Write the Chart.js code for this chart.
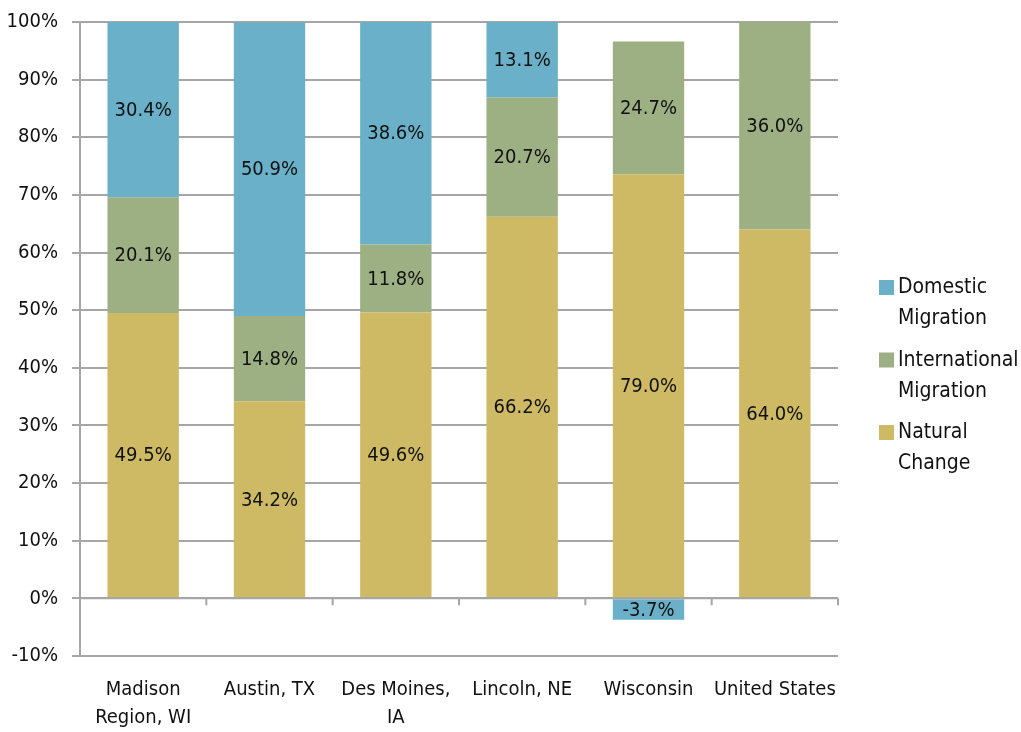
<!DOCTYPE html>
<html>
<head>
<meta charset="utf-8">
<script src="https://cdn.jsdelivr.net/npm/chart.js@4/dist/chart.umd.min.js"></script>
<style>
  html, body { margin: 0; padding: 0; background: #fff; }
  #wrap { width: 1021px; height: 732px; position: relative; }
</style>
</head>
<body>
<div id="wrap"><canvas id="chart"></canvas></div>
<script>
// categories and series (drawn heights, in %)
var categories = [['Madison', 'Region, WI'], 'Austin, TX', ['Des Moines,', 'IA'], 'Lincoln, NE', 'Wisconsin', 'United States'];
var naturalChange = [49.5, 34.2, 49.6, 66.2, 73.6, 64.0];
var internationalMigration = [20.1, 14.8, 11.8, 20.7, 23.0, 36.0];
var domesticMigration = [30.4, 50.9, 38.6, 13.1, -3.7, 0];

// printed value labels
var naturalLabels = ['49.5%', '34.2%', '49.6%', '66.2%', '79.0%', '64.0%'];
var internationalLabels = ['20.1%', '14.8%', '11.8%', '20.7%', '24.7%', '36.0%'];
var domesticLabels = ['30.4%', '50.9%', '38.6%', '13.1%', '-3.7%', null];

var legendNames = [['Domestic', 'Migration'], ['International', 'Migration'], ['Natural', 'Change']];
var yTicks = { min: -10, max: 100, step: 10 };

var sFont = "'Liberation Sans Narrow', 'DejaVu Sans Condensed', sans-serif";
var sGrid = '#a6a6a6';
var sBlue = 'rgb(106, 176, 200)';
var sGreen = 'rgb(157, 176, 131)';
var sGold = 'rgb(206, 185, 101)';

// value labels in the middle of each segment
var valueLabels = {
    id: 'valueLabels',
    afterDatasetsDraw: function(chart) {
        var ctx = chart.ctx;
        ctx.save();
        ctx.font = '20px ' + sFont;
        ctx.fillStyle = '#111';
        ctx.textAlign = 'center';
        ctx.textBaseline = 'middle';
        chart.data.datasets.forEach(function(ds, d) {
            chart.getDatasetMeta(d).data.forEach(function(bar, i) {
                var sText = ds.valueLabels[i];
                if (!sText)
                    return;
                ctx.fillText(sText, bar.x, (bar.y + bar.base) / 2 + 1);
            });
        });
        ctx.restore();
    }
};

// category tick marks on the zero line
var zeroTicks = {
    id: 'zeroTicks',
    afterDatasetsDraw: function(chart) {
        var ctx = chart.ctx;
        var x = chart.scales.x, y = chart.scales.y;
        var y0 = y.getPixelForValue(0);
        ctx.save();
        ctx.strokeStyle = sGrid;
        ctx.lineWidth = 2;
        ctx.beginPath();
        ctx.moveTo(chart.chartArea.left, y0);
        ctx.lineTo(chart.chartArea.right, y0);
        for (var i = 0; i < categories.length; i++) {
            var xb = i < categories.length - 1 ? (x.getPixelForValue(i) + x.getPixelForValue(i + 1)) / 2 : chart.chartArea.right;
            ctx.moveTo(xb, y0);
            ctx.lineTo(xb, y0 + 7);
        }
        ctx.stroke();
        ctx.restore();
    }
};

// legend on the right, two-line names
var sideLegend = {
    id: 'sideLegend',
    afterDraw: function(chart) {
        var ctx = chart.ctx;
        var aOrder = [2, 1, 0];
        var iTop = 288;
        ctx.save();
        ctx.font = '21px ' + sFont;
        ctx.textBaseline = 'middle';
        ctx.textAlign = 'left';
        aOrder.forEach(function(d, k) {
            var ds = chart.data.datasets[d];
            var yc = iTop + k * 72.5;
            ctx.fillStyle = ds.backgroundColor;
            ctx.fillRect(879, yc - 8, 15, 15);
            ctx.fillStyle = '#111';
            ctx.fillText(legendNames[k][0], 898, yc);
            ctx.fillText(legendNames[k][1], 898, yc + 31);
        });
        ctx.restore();
    }
};

new Chart(document.getElementById('chart'), {
    type: 'bar',
    data: {
        labels: categories,
        datasets: [{
            label: 'Natural Change',
            data: naturalChange,
            valueLabels: naturalLabels,
            backgroundColor: sGold
        }, {
            label: 'International Migration',
            data: internationalMigration,
            valueLabels: internationalLabels,
            backgroundColor: sGreen
        }, {
            label: 'Domestic Migration',
            data: domesticMigration,
            valueLabels: domesticLabels,
            backgroundColor: sBlue
        }]
    },
    options: {
        responsive: true,
        maintainAspectRatio: false,
        animation: false,
        categoryPercentage: 1,
        barPercentage: 0.565,
        layout: { padding: { top: 22, right: 183, left: 0, bottom: 0 } },
        plugins: {
            legend: { display: false },
            tooltip: { enabled: false }
        },
        scales: {
            x: {
                stacked: true,
                grid: { display: false },
                border: { display: false },
                ticks: {
                    color: '#111',
                    font: { family: sFont, size: 20, lineHeight: 1.4 },
                    padding: 12,
                    maxRotation: 0,
                    autoSkip: false
                },
                afterFit: function(scale) { scale.height = 76; }
            },
            y: {
                stacked: true,
                min: yTicks.min,
                max: yTicks.max,
                grid: { color: sGrid, lineWidth: 2, tickLength: 8 },
                border: { color: sGrid, width: 2 },
                ticks: {
                    stepSize: yTicks.step,
                    color: '#111',
                    font: { family: sFont, size: 20 },
                    padding: 14,
                    callback: function(v) { return v + '%'; }
                },
                afterFit: function(scale) {
                    scale.width = 80;
                    scale.paddingTop = 0;
                    scale.paddingBottom = 0;
                }
            }
        }
    },
    plugins: [valueLabels, zeroTicks, sideLegend]
});
</script>
</body>
</html>
